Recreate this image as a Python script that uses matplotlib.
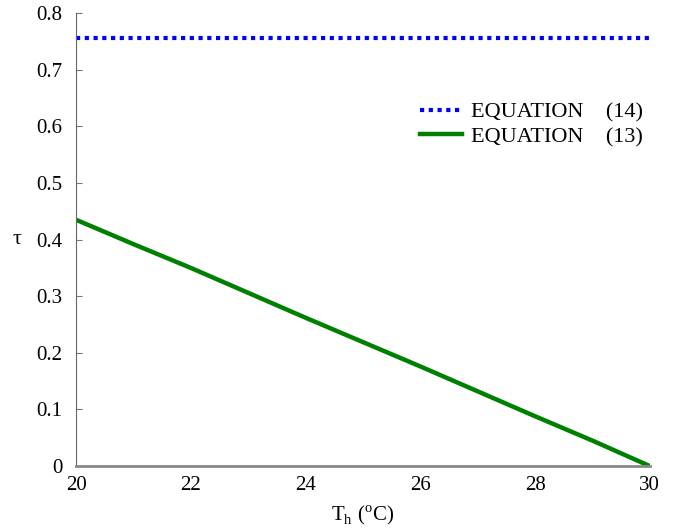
import numpy as np
import matplotlib
matplotlib.use("Agg")
import matplotlib.pyplot as plt

plt.rcParams['font.family'] = ['Liberation Serif', 'DejaVu Serif']
plt.rcParams['mathtext.fontset'] = 'custom'
plt.rcParams['mathtext.rm'] = 'Liberation Serif'

# data
th = [20, 21, 22, 23, 24, 25, 26, 27, 28, 29, 30]
tau_eq13 = [0.435, 0.392, 0.350, 0.306, 0.262, 0.219, 0.176, 0.132, 0.088, 0.045, 0.0]
tau_eq14 = [0.757] * len(th)

fig = plt.figure(figsize=(6.74, 5.29), dpi=100)
ax = fig.add_axes([0.113, 0.119, 0.851, 0.856])

ax.plot(th, tau_eq14, color='#0000ff', linestyle=(0, (1, 1.1)), linewidth=3, label='EQUATION    (14)')
ax.plot(th, tau_eq13, color='#008000', linewidth=3.2, label='EQUATION    (13)')

ax.set_xlim(20, 30)
ax.set_ylim(0, 0.8)
ax.set_xticks([20, 22, 24, 26, 28, 30])
ax.set_yticks(np.arange(0, 0.81, 0.1))
ax.set_yticklabels(['0', '0.1', '0.2', '0.3', '0.4', '0.5', '0.6', '0.7', '0.8'])
ax.tick_params(axis='y', direction='in', length=4, color='#777777', labelsize=15, pad=10)
ax.tick_params(axis='x', length=0, labelsize=15, pad=7)

ax.spines['top'].set_visible(False)
ax.spines['right'].set_visible(False)
ax.spines['left'].set_color('#666666')
ax.spines['bottom'].set_color('#888888')
ax.spines['bottom'].set_linewidth(2)

ax.set_xlabel(r'T$_\mathrm{h}$ ($^\mathrm{o}$C)', fontsize=15, labelpad=6)
ax.set_ylabel('τ', fontsize=16, rotation=0, labelpad=14, va='center')

ax.legend(loc='upper left', bbox_to_anchor=(0.565, 0.848), frameon=False, fontsize=16,
          handlelength=1.9, handletextpad=0.4, labelspacing=0.18)

fig.savefig('out.png', dpi=100)
